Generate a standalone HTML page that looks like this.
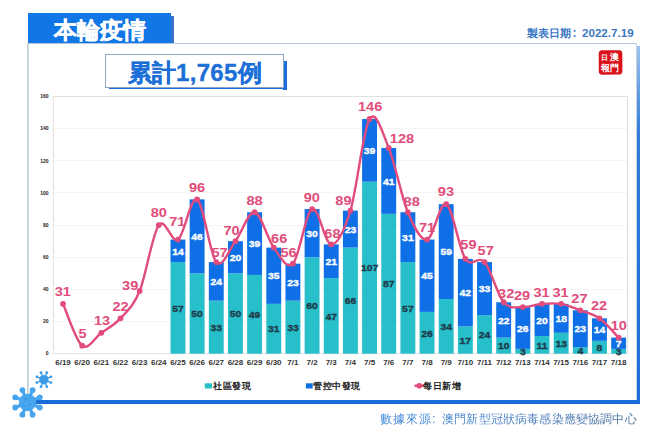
<!DOCTYPE html>
<html><head><meta charset="utf-8">
<style>
html,body{margin:0;padding:0;background:#fff;}
body{width:660px;height:439px;overflow:hidden;position:relative;font-family:"Liberation Sans",sans-serif;}
.abs{position:absolute;}
#title{left:28px;top:13px;width:143px;height:30px;background:#1176e6;}
#title span{position:absolute;left:26px;top:2.5px;font-size:23px;font-weight:900;-webkit-text-stroke:0.45px #fff;color:#fff;line-height:28px;letter-spacing:0px;white-space:nowrap;}
#date{left:526.5px;top:26px;font-size:11px;font-weight:bold;color:#3b78c4;white-space:nowrap;line-height:14px;}
#total{left:105px;top:54px;width:177px;height:31.5px;border:1px solid #8ea6c4;background:#fff;}
#total span{position:absolute;left:21.5px;top:4.5px;font-size:24px;letter-spacing:0.3px;-webkit-text-stroke:0.35px #1b6fd6;font-weight:bold;color:#1b6fd6;line-height:26px;white-space:nowrap;}
#src,#src2{position:absolute;top:411px;font-size:12.2px;-webkit-background-clip:text;background-clip:text;-webkit-text-fill-color:transparent;white-space:nowrap;line-height:16px;}
#src{left:380px;letter-spacing:0.9px;background:linear-gradient(90deg,#3a86dc,#3e84d4);-webkit-background-clip:text;background-clip:text;}
#src2{left:442px;letter-spacing:0.17px;background:linear-gradient(90deg,#3f84d2,#4a80c4 40%,#4c7098);-webkit-background-clip:text;background-clip:text;}
.leg{top:381px;font-size:9.3px;letter-spacing:0.5px;font-weight:bold;color:#222;white-space:nowrap;line-height:11px;}
</style></head><body>
<div class="abs" style="left:27px;top:43px;width:2px;height:358px;background:linear-gradient(90deg,#bccbd0,#d8e4e6);"></div>
<div class="abs" style="left:28px;top:43px;width:609px;height:1px;background:#b7c6d8;"></div>
<div class="abs" style="left:636px;top:43px;width:1px;height:358px;background:#c9d3de;"></div>
<div class="abs" style="left:637px;top:46px;width:3px;height:357px;background:linear-gradient(#9cc2ee,#2f7bd9 25%,#1d6edb);"></div>
<div class="abs" style="left:28px;top:400px;width:612px;height:3.7px;background:#1a6ad8;"></div>
<div class="abs" style="left:171px;top:16px;width:2.6px;height:27px;background:#3b77c6;"></div>
<div id="title" class="abs"><span>本輪疫情</span></div>
<div id="date" class="abs">製表日期<span style="margin-left:2px;margin-right:5.5px;font-size:12px">:</span><span style="font-size:11.6px">2022.7.19</span></div>
<div class="abs" style="left:283px;top:61px;width:3.5px;height:28.5px;background:#1a6ede;"></div>
<div class="abs" style="left:109px;top:86.5px;width:177.5px;height:2.8px;background:#1a6ede;"></div>
<div id="total" class="abs"><span>累計1,765例</span></div>
<svg class="abs" style="left:0;top:0" width="660" height="439" viewBox="0 0 660 439" font-family="Liberation Sans, sans-serif">
<line x1="53.4" x2="627.4" y1="321.50" y2="321.50" stroke="#f4f4f4" stroke-width="1"/>
<line x1="53.4" x2="627.4" y1="289.50" y2="289.50" stroke="#f4f4f4" stroke-width="1"/>
<line x1="53.4" x2="627.4" y1="257.50" y2="257.50" stroke="#f4f4f4" stroke-width="1"/>
<line x1="53.4" x2="627.4" y1="225.50" y2="225.50" stroke="#f4f4f4" stroke-width="1"/>
<line x1="53.4" x2="627.4" y1="192.50" y2="192.50" stroke="#f4f4f4" stroke-width="1"/>
<line x1="53.4" x2="627.4" y1="160.50" y2="160.50" stroke="#f4f4f4" stroke-width="1"/>
<line x1="53.4" x2="627.4" y1="128.50" y2="128.50" stroke="#f4f4f4" stroke-width="1"/>
<rect x="53.4" y="96.50" width="574.00" height="257.20" fill="none" stroke="#e0e0e0" stroke-width="1"/>
<text x="48.6" y="355.40" text-anchor="end" font-size="5" font-weight="bold" fill="#222">0</text>
<text x="48.6" y="323.25" text-anchor="end" font-size="5" font-weight="bold" fill="#222">20</text>
<text x="48.6" y="291.10" text-anchor="end" font-size="5" font-weight="bold" fill="#222">40</text>
<text x="48.6" y="258.95" text-anchor="end" font-size="5" font-weight="bold" fill="#222">60</text>
<text x="48.6" y="226.80" text-anchor="end" font-size="5" font-weight="bold" fill="#222">80</text>
<text x="48.6" y="194.65" text-anchor="end" font-size="5" font-weight="bold" fill="#222">100</text>
<text x="48.6" y="162.50" text-anchor="end" font-size="5" font-weight="bold" fill="#222">120</text>
<text x="48.6" y="130.35" text-anchor="end" font-size="5" font-weight="bold" fill="#222">140</text>
<text x="48.6" y="98.20" text-anchor="end" font-size="5" font-weight="bold" fill="#222">160</text>
<rect x="170.51" y="262.07" width="14.9" height="91.63" fill="#27bfca"/>
<rect x="170.51" y="239.57" width="14.9" height="22.50" fill="#0f6fe6"/>
<rect x="189.67" y="273.32" width="14.9" height="80.38" fill="#27bfca"/>
<rect x="189.67" y="199.38" width="14.9" height="73.94" fill="#0f6fe6"/>
<rect x="208.83" y="300.65" width="14.9" height="53.05" fill="#27bfca"/>
<rect x="208.83" y="262.07" width="14.9" height="38.58" fill="#0f6fe6"/>
<rect x="227.99" y="273.32" width="14.9" height="80.38" fill="#27bfca"/>
<rect x="227.99" y="241.18" width="14.9" height="32.15" fill="#0f6fe6"/>
<rect x="247.15" y="274.93" width="14.9" height="78.77" fill="#27bfca"/>
<rect x="247.15" y="212.24" width="14.9" height="62.69" fill="#0f6fe6"/>
<rect x="266.31" y="303.87" width="14.9" height="49.83" fill="#27bfca"/>
<rect x="266.31" y="247.60" width="14.9" height="56.26" fill="#0f6fe6"/>
<rect x="285.47" y="300.65" width="14.9" height="53.05" fill="#27bfca"/>
<rect x="285.47" y="263.68" width="14.9" height="36.97" fill="#0f6fe6"/>
<rect x="304.63" y="257.25" width="14.9" height="96.45" fill="#27bfca"/>
<rect x="304.63" y="209.03" width="14.9" height="48.22" fill="#0f6fe6"/>
<rect x="323.79" y="278.15" width="14.9" height="75.55" fill="#27bfca"/>
<rect x="323.79" y="244.39" width="14.9" height="33.76" fill="#0f6fe6"/>
<rect x="342.95" y="247.60" width="14.9" height="106.09" fill="#27bfca"/>
<rect x="342.95" y="210.63" width="14.9" height="36.97" fill="#0f6fe6"/>
<rect x="362.11" y="181.70" width="14.9" height="172.00" fill="#27bfca"/>
<rect x="362.11" y="119.00" width="14.9" height="62.69" fill="#0f6fe6"/>
<rect x="381.27" y="213.85" width="14.9" height="139.85" fill="#27bfca"/>
<rect x="381.27" y="147.94" width="14.9" height="65.91" fill="#0f6fe6"/>
<rect x="400.43" y="262.07" width="14.9" height="91.63" fill="#27bfca"/>
<rect x="400.43" y="212.24" width="14.9" height="49.83" fill="#0f6fe6"/>
<rect x="419.59" y="311.90" width="14.9" height="41.80" fill="#27bfca"/>
<rect x="419.59" y="239.57" width="14.9" height="72.34" fill="#0f6fe6"/>
<rect x="438.75" y="299.04" width="14.9" height="54.66" fill="#27bfca"/>
<rect x="438.75" y="204.20" width="14.9" height="94.84" fill="#0f6fe6"/>
<rect x="457.91" y="326.37" width="14.9" height="27.33" fill="#27bfca"/>
<rect x="457.91" y="258.86" width="14.9" height="67.52" fill="#0f6fe6"/>
<rect x="477.07" y="315.12" width="14.9" height="38.58" fill="#27bfca"/>
<rect x="477.07" y="262.07" width="14.9" height="53.05" fill="#0f6fe6"/>
<rect x="496.23" y="337.62" width="14.9" height="16.07" fill="#27bfca"/>
<rect x="496.23" y="302.26" width="14.9" height="35.37" fill="#0f6fe6"/>
<rect x="515.39" y="348.88" width="14.9" height="4.82" fill="#27bfca"/>
<rect x="515.39" y="307.08" width="14.9" height="41.80" fill="#0f6fe6"/>
<rect x="534.55" y="336.02" width="14.9" height="17.68" fill="#27bfca"/>
<rect x="534.55" y="303.87" width="14.9" height="32.15" fill="#0f6fe6"/>
<rect x="553.71" y="332.80" width="14.9" height="20.90" fill="#27bfca"/>
<rect x="553.71" y="303.87" width="14.9" height="28.94" fill="#0f6fe6"/>
<rect x="572.87" y="347.27" width="14.9" height="6.43" fill="#27bfca"/>
<rect x="572.87" y="310.30" width="14.9" height="36.97" fill="#0f6fe6"/>
<rect x="592.03" y="340.84" width="14.9" height="12.86" fill="#27bfca"/>
<rect x="592.03" y="318.33" width="14.9" height="22.50" fill="#0f6fe6"/>
<rect x="611.19" y="348.88" width="14.9" height="4.82" fill="#27bfca"/>
<rect x="611.19" y="337.62" width="14.9" height="11.25" fill="#0f6fe6"/>
<text transform="translate(177.96,311.59) scale(1.14,1)" text-anchor="middle" font-size="9.1" font-weight="bold" fill="#1f3b4a" stroke="#1f3b4a" stroke-width="0.35">57</text>
<text transform="translate(177.96,254.52) scale(1.14,1)" text-anchor="middle" font-size="9.1" font-weight="bold" fill="#fff" stroke="#fff" stroke-width="0.35">14</text>
<text transform="translate(197.12,317.21) scale(1.14,1)" text-anchor="middle" font-size="9.1" font-weight="bold" fill="#1f3b4a" stroke="#1f3b4a" stroke-width="0.35">50</text>
<text transform="translate(197.12,240.05) scale(1.14,1)" text-anchor="middle" font-size="9.1" font-weight="bold" fill="#fff" stroke="#fff" stroke-width="0.35">46</text>
<text transform="translate(216.28,330.88) scale(1.14,1)" text-anchor="middle" font-size="9.1" font-weight="bold" fill="#1f3b4a" stroke="#1f3b4a" stroke-width="0.35">33</text>
<text transform="translate(216.28,285.06) scale(1.14,1)" text-anchor="middle" font-size="9.1" font-weight="bold" fill="#fff" stroke="#fff" stroke-width="0.35">24</text>
<text transform="translate(235.44,317.21) scale(1.14,1)" text-anchor="middle" font-size="9.1" font-weight="bold" fill="#1f3b4a" stroke="#1f3b4a" stroke-width="0.35">50</text>
<text transform="translate(235.44,260.95) scale(1.14,1)" text-anchor="middle" font-size="9.1" font-weight="bold" fill="#fff" stroke="#fff" stroke-width="0.35">20</text>
<text transform="translate(254.60,318.02) scale(1.14,1)" text-anchor="middle" font-size="9.1" font-weight="bold" fill="#1f3b4a" stroke="#1f3b4a" stroke-width="0.35">49</text>
<text transform="translate(254.60,247.29) scale(1.14,1)" text-anchor="middle" font-size="9.1" font-weight="bold" fill="#fff" stroke="#fff" stroke-width="0.35">39</text>
<text transform="translate(273.76,332.48) scale(1.14,1)" text-anchor="middle" font-size="9.1" font-weight="bold" fill="#1f3b4a" stroke="#1f3b4a" stroke-width="0.35">31</text>
<text transform="translate(273.76,279.44) scale(1.14,1)" text-anchor="middle" font-size="9.1" font-weight="bold" fill="#fff" stroke="#fff" stroke-width="0.35">35</text>
<text transform="translate(292.92,330.88) scale(1.14,1)" text-anchor="middle" font-size="9.1" font-weight="bold" fill="#1f3b4a" stroke="#1f3b4a" stroke-width="0.35">33</text>
<text transform="translate(292.92,285.87) scale(1.14,1)" text-anchor="middle" font-size="9.1" font-weight="bold" fill="#fff" stroke="#fff" stroke-width="0.35">23</text>
<text transform="translate(312.08,309.18) scale(1.14,1)" text-anchor="middle" font-size="9.1" font-weight="bold" fill="#1f3b4a" stroke="#1f3b4a" stroke-width="0.35">60</text>
<text transform="translate(312.08,236.84) scale(1.14,1)" text-anchor="middle" font-size="9.1" font-weight="bold" fill="#fff" stroke="#fff" stroke-width="0.35">30</text>
<text transform="translate(331.24,319.62) scale(1.14,1)" text-anchor="middle" font-size="9.1" font-weight="bold" fill="#1f3b4a" stroke="#1f3b4a" stroke-width="0.35">47</text>
<text transform="translate(331.24,264.97) scale(1.14,1)" text-anchor="middle" font-size="9.1" font-weight="bold" fill="#fff" stroke="#fff" stroke-width="0.35">21</text>
<text transform="translate(350.40,304.35) scale(1.14,1)" text-anchor="middle" font-size="9.1" font-weight="bold" fill="#1f3b4a" stroke="#1f3b4a" stroke-width="0.35">66</text>
<text transform="translate(350.40,232.82) scale(1.14,1)" text-anchor="middle" font-size="9.1" font-weight="bold" fill="#fff" stroke="#fff" stroke-width="0.35">23</text>
<text transform="translate(369.56,271.40) scale(1.14,1)" text-anchor="middle" font-size="9.1" font-weight="bold" fill="#1f3b4a" stroke="#1f3b4a" stroke-width="0.35">107</text>
<text transform="translate(369.56,154.05) scale(1.14,1)" text-anchor="middle" font-size="9.1" font-weight="bold" fill="#fff" stroke="#fff" stroke-width="0.35">39</text>
<text transform="translate(388.72,287.47) scale(1.14,1)" text-anchor="middle" font-size="9.1" font-weight="bold" fill="#1f3b4a" stroke="#1f3b4a" stroke-width="0.35">87</text>
<text transform="translate(388.72,184.59) scale(1.14,1)" text-anchor="middle" font-size="9.1" font-weight="bold" fill="#fff" stroke="#fff" stroke-width="0.35">41</text>
<text transform="translate(407.88,311.59) scale(1.14,1)" text-anchor="middle" font-size="9.1" font-weight="bold" fill="#1f3b4a" stroke="#1f3b4a" stroke-width="0.35">57</text>
<text transform="translate(407.88,240.86) scale(1.14,1)" text-anchor="middle" font-size="9.1" font-weight="bold" fill="#fff" stroke="#fff" stroke-width="0.35">31</text>
<text transform="translate(427.04,336.50) scale(1.14,1)" text-anchor="middle" font-size="9.1" font-weight="bold" fill="#1f3b4a" stroke="#1f3b4a" stroke-width="0.35">26</text>
<text transform="translate(427.04,279.44) scale(1.14,1)" text-anchor="middle" font-size="9.1" font-weight="bold" fill="#fff" stroke="#fff" stroke-width="0.35">45</text>
<text transform="translate(446.20,330.07) scale(1.14,1)" text-anchor="middle" font-size="9.1" font-weight="bold" fill="#1f3b4a" stroke="#1f3b4a" stroke-width="0.35">34</text>
<text transform="translate(446.20,255.32) scale(1.14,1)" text-anchor="middle" font-size="9.1" font-weight="bold" fill="#fff" stroke="#fff" stroke-width="0.35">59</text>
<text transform="translate(465.36,343.74) scale(1.14,1)" text-anchor="middle" font-size="9.1" font-weight="bold" fill="#1f3b4a" stroke="#1f3b4a" stroke-width="0.35">17</text>
<text transform="translate(465.36,296.31) scale(1.14,1)" text-anchor="middle" font-size="9.1" font-weight="bold" fill="#fff" stroke="#fff" stroke-width="0.35">42</text>
<text transform="translate(484.52,338.11) scale(1.14,1)" text-anchor="middle" font-size="9.1" font-weight="bold" fill="#1f3b4a" stroke="#1f3b4a" stroke-width="0.35">24</text>
<text transform="translate(484.52,292.30) scale(1.14,1)" text-anchor="middle" font-size="9.1" font-weight="bold" fill="#fff" stroke="#fff" stroke-width="0.35">33</text>
<text transform="translate(503.68,349.36) scale(1.14,1)" text-anchor="middle" font-size="9.1" font-weight="bold" fill="#1f3b4a" stroke="#1f3b4a" stroke-width="0.35">10</text>
<text transform="translate(503.68,323.64) scale(1.14,1)" text-anchor="middle" font-size="9.1" font-weight="bold" fill="#fff" stroke="#fff" stroke-width="0.35">22</text>
<text transform="translate(522.84,354.99) scale(1.14,1)" text-anchor="middle" font-size="9.1" font-weight="bold" fill="#1f3b4a" stroke="#1f3b4a" stroke-width="0.35">3</text>
<text transform="translate(522.84,331.68) scale(1.14,1)" text-anchor="middle" font-size="9.1" font-weight="bold" fill="#fff" stroke="#fff" stroke-width="0.35">26</text>
<text transform="translate(542.00,348.56) scale(1.14,1)" text-anchor="middle" font-size="9.1" font-weight="bold" fill="#1f3b4a" stroke="#1f3b4a" stroke-width="0.35">11</text>
<text transform="translate(542.00,323.64) scale(1.14,1)" text-anchor="middle" font-size="9.1" font-weight="bold" fill="#fff" stroke="#fff" stroke-width="0.35">20</text>
<text transform="translate(561.16,346.95) scale(1.14,1)" text-anchor="middle" font-size="9.1" font-weight="bold" fill="#1f3b4a" stroke="#1f3b4a" stroke-width="0.35">13</text>
<text transform="translate(561.16,322.04) scale(1.14,1)" text-anchor="middle" font-size="9.1" font-weight="bold" fill="#fff" stroke="#fff" stroke-width="0.35">18</text>
<text transform="translate(580.32,354.19) scale(1.14,1)" text-anchor="middle" font-size="9.1" font-weight="bold" fill="#1f3b4a" stroke="#1f3b4a" stroke-width="0.35">4</text>
<text transform="translate(580.32,332.48) scale(1.14,1)" text-anchor="middle" font-size="9.1" font-weight="bold" fill="#fff" stroke="#fff" stroke-width="0.35">23</text>
<text transform="translate(599.48,350.97) scale(1.14,1)" text-anchor="middle" font-size="9.1" font-weight="bold" fill="#1f3b4a" stroke="#1f3b4a" stroke-width="0.35">8</text>
<text transform="translate(599.48,333.29) scale(1.14,1)" text-anchor="middle" font-size="9.1" font-weight="bold" fill="#fff" stroke="#fff" stroke-width="0.35">14</text>
<text transform="translate(618.64,354.99) scale(1.14,1)" text-anchor="middle" font-size="9.1" font-weight="bold" fill="#1f3b4a" stroke="#1f3b4a" stroke-width="0.35">3</text>
<text transform="translate(618.64,346.95) scale(1.14,1)" text-anchor="middle" font-size="9.1" font-weight="bold" fill="#fff" stroke="#fff" stroke-width="0.35">7</text>
<path d="M63.00,303.87 C66.19,310.83 75.77,340.84 82.16,345.66 C88.55,350.48 94.93,337.36 101.32,332.80 C107.71,328.25 114.09,325.30 120.48,318.33 C126.87,311.37 133.25,306.55 139.64,291.01 C146.03,275.47 152.41,233.67 158.80,225.10 C165.19,216.53 171.57,243.85 177.96,239.57 C184.35,235.28 190.73,195.63 197.12,199.38 C203.51,203.13 209.89,255.11 216.28,262.07 C222.67,269.04 229.05,249.48 235.44,241.18 C241.83,232.87 248.21,211.17 254.60,212.24 C260.99,213.31 267.37,239.03 273.76,247.60 C280.15,256.18 286.53,270.11 292.92,263.68 C299.31,257.25 305.69,212.24 312.08,209.03 C318.47,205.81 324.85,244.12 331.24,244.39 C337.63,244.66 344.01,231.53 350.40,210.63 C356.79,189.73 363.17,129.45 369.56,119.00 C375.95,108.56 382.33,132.40 388.72,147.94 C395.11,163.48 401.49,196.97 407.88,212.24 C414.27,227.51 420.65,240.91 427.04,239.57 C433.43,238.23 439.81,200.99 446.20,204.20 C452.59,207.42 458.97,249.21 465.36,258.86 C471.75,268.50 478.13,254.84 484.52,262.07 C490.91,269.31 497.29,294.76 503.68,302.26 C510.07,309.76 516.45,306.81 522.84,307.08 C529.23,307.35 535.61,304.40 542.00,303.87 C548.39,303.33 554.77,302.80 561.16,303.87 C567.55,304.94 573.93,307.89 580.32,310.30 C586.71,312.71 593.09,313.78 599.48,318.33 C605.87,322.89 615.45,334.41 618.64,337.62" fill="none" stroke="#e24c7c" stroke-width="2.4" stroke-linejoin="round" stroke-linecap="round"/>
<circle cx="63.00" cy="303.87" r="2.9" fill="#e24c7c"/>
<circle cx="82.16" cy="345.66" r="2.9" fill="#e24c7c"/>
<circle cx="101.32" cy="332.80" r="2.9" fill="#e24c7c"/>
<circle cx="120.48" cy="318.33" r="2.9" fill="#e24c7c"/>
<circle cx="139.64" cy="291.01" r="2.9" fill="#e24c7c"/>
<circle cx="158.80" cy="225.10" r="2.9" fill="#e24c7c"/>
<circle cx="177.96" cy="239.57" r="2.9" fill="#e24c7c"/>
<circle cx="197.12" cy="199.38" r="2.9" fill="#e24c7c"/>
<circle cx="216.28" cy="262.07" r="2.9" fill="#e24c7c"/>
<circle cx="235.44" cy="241.18" r="2.9" fill="#e24c7c"/>
<circle cx="254.60" cy="212.24" r="2.9" fill="#e24c7c"/>
<circle cx="273.76" cy="247.60" r="2.9" fill="#e24c7c"/>
<circle cx="292.92" cy="263.68" r="2.9" fill="#e24c7c"/>
<circle cx="312.08" cy="209.03" r="2.9" fill="#e24c7c"/>
<circle cx="331.24" cy="244.39" r="2.9" fill="#e24c7c"/>
<circle cx="350.40" cy="210.63" r="2.9" fill="#e24c7c"/>
<circle cx="369.56" cy="119.00" r="2.9" fill="#e24c7c"/>
<circle cx="388.72" cy="147.94" r="2.9" fill="#e24c7c"/>
<circle cx="407.88" cy="212.24" r="2.9" fill="#e24c7c"/>
<circle cx="427.04" cy="239.57" r="2.9" fill="#e24c7c"/>
<circle cx="446.20" cy="204.20" r="2.9" fill="#e24c7c"/>
<circle cx="465.36" cy="258.86" r="2.9" fill="#e24c7c"/>
<circle cx="484.52" cy="262.07" r="2.9" fill="#e24c7c"/>
<circle cx="503.68" cy="302.26" r="2.9" fill="#e24c7c"/>
<circle cx="522.84" cy="307.08" r="2.9" fill="#e24c7c"/>
<circle cx="542.00" cy="303.87" r="2.9" fill="#e24c7c"/>
<circle cx="561.16" cy="303.87" r="2.9" fill="#e24c7c"/>
<circle cx="580.32" cy="310.30" r="2.9" fill="#e24c7c"/>
<circle cx="599.48" cy="318.33" r="2.9" fill="#e24c7c"/>
<circle cx="618.64" cy="337.62" r="2.9" fill="#e24c7c"/>
<text transform="translate(62.80,296.10) scale(1.12,1)" text-anchor="middle" font-size="13" font-weight="bold" fill="#df4d7a">31</text>
<text transform="translate(82.50,338.30) scale(1.12,1)" text-anchor="middle" font-size="13" font-weight="bold" fill="#df4d7a">5</text>
<text transform="translate(102.00,324.80) scale(1.12,1)" text-anchor="middle" font-size="13" font-weight="bold" fill="#df4d7a">13</text>
<text transform="translate(120.50,310.50) scale(1.12,1)" text-anchor="middle" font-size="13" font-weight="bold" fill="#df4d7a">22</text>
<text transform="translate(130.20,289.70) scale(1.12,1)" text-anchor="middle" font-size="13" font-weight="bold" fill="#df4d7a">39</text>
<text transform="translate(158.80,217.20) scale(1.12,1)" text-anchor="middle" font-size="13" font-weight="bold" fill="#df4d7a">80</text>
<text transform="translate(177.30,226.20) scale(1.12,1)" text-anchor="middle" font-size="13" font-weight="bold" fill="#df4d7a">71</text>
<text transform="translate(197.00,191.50) scale(1.12,1)" text-anchor="middle" font-size="13" font-weight="bold" fill="#df4d7a">96</text>
<text transform="translate(219.60,256.90) scale(1.12,1)" text-anchor="middle" font-size="13" font-weight="bold" fill="#df4d7a">57</text>
<text transform="translate(231.50,234.70) scale(1.12,1)" text-anchor="middle" font-size="13" font-weight="bold" fill="#df4d7a">70</text>
<text transform="translate(254.50,204.50) scale(1.12,1)" text-anchor="middle" font-size="13" font-weight="bold" fill="#df4d7a">88</text>
<text transform="translate(279.20,242.90) scale(1.12,1)" text-anchor="middle" font-size="13" font-weight="bold" fill="#df4d7a">66</text>
<text transform="translate(288.60,257.40) scale(1.12,1)" text-anchor="middle" font-size="13" font-weight="bold" fill="#df4d7a">56</text>
<text transform="translate(311.80,201.50) scale(1.12,1)" text-anchor="middle" font-size="13" font-weight="bold" fill="#df4d7a">90</text>
<text transform="translate(332.40,237.90) scale(1.12,1)" text-anchor="middle" font-size="13" font-weight="bold" fill="#df4d7a">68</text>
<text transform="translate(343.40,205.30) scale(1.12,1)" text-anchor="middle" font-size="13" font-weight="bold" fill="#df4d7a">89</text>
<text transform="translate(370.10,111.00) scale(1.12,1)" text-anchor="middle" font-size="13" font-weight="bold" fill="#df4d7a">146</text>
<text transform="translate(402.00,142.90) scale(1.12,1)" text-anchor="middle" font-size="13" font-weight="bold" fill="#df4d7a">128</text>
<text transform="translate(411.70,206.20) scale(1.12,1)" text-anchor="middle" font-size="13" font-weight="bold" fill="#df4d7a">88</text>
<text transform="translate(427.10,232.00) scale(1.12,1)" text-anchor="middle" font-size="13" font-weight="bold" fill="#df4d7a">71</text>
<text transform="translate(445.90,196.10) scale(1.12,1)" text-anchor="middle" font-size="13" font-weight="bold" fill="#df4d7a">93</text>
<text transform="translate(468.40,249.40) scale(1.12,1)" text-anchor="middle" font-size="13" font-weight="bold" fill="#df4d7a">59</text>
<text transform="translate(485.70,255.20) scale(1.12,1)" text-anchor="middle" font-size="13" font-weight="bold" fill="#df4d7a">57</text>
<text transform="translate(506.20,297.60) scale(1.12,1)" text-anchor="middle" font-size="13" font-weight="bold" fill="#df4d7a">32</text>
<text transform="translate(522.00,299.50) scale(1.12,1)" text-anchor="middle" font-size="13" font-weight="bold" fill="#df4d7a">29</text>
<text transform="translate(541.50,296.80) scale(1.12,1)" text-anchor="middle" font-size="13" font-weight="bold" fill="#df4d7a">31</text>
<text transform="translate(560.50,296.80) scale(1.12,1)" text-anchor="middle" font-size="13" font-weight="bold" fill="#df4d7a">31</text>
<text transform="translate(579.40,303.10) scale(1.12,1)" text-anchor="middle" font-size="13" font-weight="bold" fill="#df4d7a">27</text>
<text transform="translate(599.00,310.40) scale(1.12,1)" text-anchor="middle" font-size="13" font-weight="bold" fill="#df4d7a">22</text>
<text transform="translate(618.80,330.30) scale(1.12,1)" text-anchor="middle" font-size="13" font-weight="bold" fill="#df4d7a">10</text>
<text x="63.00" y="365.2" text-anchor="middle" font-size="8" font-weight="bold" fill="#333">6/19</text>
<text x="82.16" y="365.2" text-anchor="middle" font-size="8" font-weight="bold" fill="#333">6/20</text>
<text x="101.32" y="365.2" text-anchor="middle" font-size="8" font-weight="bold" fill="#333">6/21</text>
<text x="120.48" y="365.2" text-anchor="middle" font-size="8" font-weight="bold" fill="#333">6/22</text>
<text x="139.64" y="365.2" text-anchor="middle" font-size="8" font-weight="bold" fill="#333">6/23</text>
<text x="158.80" y="365.2" text-anchor="middle" font-size="8" font-weight="bold" fill="#333">6/24</text>
<text x="177.96" y="365.2" text-anchor="middle" font-size="8" font-weight="bold" fill="#333">6/25</text>
<text x="197.12" y="365.2" text-anchor="middle" font-size="8" font-weight="bold" fill="#333">6/26</text>
<text x="216.28" y="365.2" text-anchor="middle" font-size="8" font-weight="bold" fill="#333">6/27</text>
<text x="235.44" y="365.2" text-anchor="middle" font-size="8" font-weight="bold" fill="#333">6/28</text>
<text x="254.60" y="365.2" text-anchor="middle" font-size="8" font-weight="bold" fill="#333">6/29</text>
<text x="273.76" y="365.2" text-anchor="middle" font-size="8" font-weight="bold" fill="#333">6/30</text>
<text x="292.92" y="365.2" text-anchor="middle" font-size="8" font-weight="bold" fill="#333">7/1</text>
<text x="312.08" y="365.2" text-anchor="middle" font-size="8" font-weight="bold" fill="#333">7/2</text>
<text x="331.24" y="365.2" text-anchor="middle" font-size="8" font-weight="bold" fill="#333">7/3</text>
<text x="350.40" y="365.2" text-anchor="middle" font-size="8" font-weight="bold" fill="#333">7/4</text>
<text x="369.56" y="365.2" text-anchor="middle" font-size="8" font-weight="bold" fill="#333">7/5</text>
<text x="388.72" y="365.2" text-anchor="middle" font-size="8" font-weight="bold" fill="#333">7/6</text>
<text x="407.88" y="365.2" text-anchor="middle" font-size="8" font-weight="bold" fill="#333">7/7</text>
<text x="427.04" y="365.2" text-anchor="middle" font-size="8" font-weight="bold" fill="#333">7/8</text>
<text x="446.20" y="365.2" text-anchor="middle" font-size="8" font-weight="bold" fill="#333">7/9</text>
<text x="465.36" y="365.2" text-anchor="middle" font-size="8" font-weight="bold" fill="#333">7/10</text>
<text x="484.52" y="365.2" text-anchor="middle" font-size="8" font-weight="bold" fill="#333">7/11</text>
<text x="503.68" y="365.2" text-anchor="middle" font-size="8" font-weight="bold" fill="#333">7/12</text>
<text x="522.84" y="365.2" text-anchor="middle" font-size="8" font-weight="bold" fill="#333">7/13</text>
<text x="542.00" y="365.2" text-anchor="middle" font-size="8" font-weight="bold" fill="#333">7/14</text>
<text x="561.16" y="365.2" text-anchor="middle" font-size="8" font-weight="bold" fill="#333">7/15</text>
<text x="580.32" y="365.2" text-anchor="middle" font-size="8" font-weight="bold" fill="#333">7/16</text>
<text x="599.48" y="365.2" text-anchor="middle" font-size="8" font-weight="bold" fill="#333">7/17</text>
<text x="618.64" y="365.2" text-anchor="middle" font-size="8" font-weight="bold" fill="#333">7/18</text>
<!-- seal -->
<path d="M601.5,50.3 L619.5,50.2 Q622.4,50.4 622.3,53.5 L622.4,71.2 Q622.2,74.5 619,74.6 L602,74.7 Q598.8,74.4 598.8,71.4 L598.7,53.6 Q598.9,50.5 601.5,50.3 Z" fill="#d9121c"/>
<g font-family="Liberation Serif, serif" fill="#fff" font-weight="bold" text-anchor="middle">
<text x="604.8" y="59.6" font-size="6.5">日</text>
<text x="614.8" y="60.2" font-size="9">澳</text>
<text x="605.6" y="70.6" font-size="8.5">報</text>
<text x="614.8" y="70.9" font-size="8.5">門</text>
</g>
<!-- legend markers -->
<rect x="204.8" y="383.3" width="7.2" height="5.2" fill="#27bfca"/>
<rect x="305.9" y="383.3" width="6.8" height="5.2" fill="#0f6fe6"/>
<line x1="414.5" y1="385.8" x2="424" y2="385.8" stroke="#e24c7c" stroke-width="2.5"/>
<circle cx="419.3" cy="385.8" r="2.8" fill="#e24c7c"/>
<line x1="42.58" y1="376.52" x2="41.00" y2="372.71" stroke="#3c9ce8" stroke-width="1.29"/>
<circle cx="41.00" cy="372.71" r="1.42" fill="#3c9ce8"/>
<line x1="45.22" y1="376.52" x2="46.80" y2="372.71" stroke="#3c9ce8" stroke-width="1.29"/>
<circle cx="46.80" cy="372.71" r="1.42" fill="#3c9ce8"/>
<line x1="47.08" y1="378.38" x2="50.89" y2="376.80" stroke="#3c9ce8" stroke-width="1.29"/>
<circle cx="50.89" cy="376.80" r="1.42" fill="#3c9ce8"/>
<line x1="47.08" y1="381.02" x2="50.89" y2="382.60" stroke="#3c9ce8" stroke-width="1.29"/>
<circle cx="50.89" cy="382.60" r="1.42" fill="#3c9ce8"/>
<line x1="45.22" y1="382.88" x2="46.80" y2="386.69" stroke="#3c9ce8" stroke-width="1.29"/>
<circle cx="46.80" cy="386.69" r="1.42" fill="#3c9ce8"/>
<line x1="42.58" y1="382.88" x2="41.00" y2="386.69" stroke="#3c9ce8" stroke-width="1.29"/>
<circle cx="41.00" cy="386.69" r="1.42" fill="#3c9ce8"/>
<line x1="40.72" y1="381.02" x2="36.91" y2="382.60" stroke="#3c9ce8" stroke-width="1.29"/>
<circle cx="36.91" cy="382.60" r="1.42" fill="#3c9ce8"/>
<line x1="40.72" y1="378.38" x2="36.91" y2="376.80" stroke="#3c9ce8" stroke-width="1.29"/>
<circle cx="36.91" cy="376.80" r="1.42" fill="#3c9ce8"/>
<circle cx="43.9" cy="379.7" r="4.73" fill="#3c9ce8"/>
<circle cx="42.87" cy="377.98" r="0.69" fill="#3590dc"/>
<circle cx="45.19" cy="380.73" r="0.60" fill="#3590dc"/>
<circle cx="42.18" cy="381.85" r="0.52" fill="#3590dc"/>
<line x1="25.17" y1="396.78" x2="22.41" y2="390.11" stroke="#47a5ee" stroke-width="3.19"/>
<circle cx="22.41" cy="390.11" r="2.89" fill="#47a5ee"/>
<line x1="29.83" y1="396.78" x2="32.59" y2="390.11" stroke="#47a5ee" stroke-width="3.19"/>
<circle cx="32.59" cy="390.11" r="2.89" fill="#47a5ee"/>
<line x1="33.12" y1="400.07" x2="39.79" y2="397.31" stroke="#47a5ee" stroke-width="3.19"/>
<circle cx="39.79" cy="397.31" r="2.89" fill="#47a5ee"/>
<line x1="33.12" y1="404.73" x2="39.79" y2="407.49" stroke="#47a5ee" stroke-width="3.19"/>
<circle cx="39.79" cy="407.49" r="2.89" fill="#47a5ee"/>
<line x1="29.83" y1="408.02" x2="32.59" y2="414.69" stroke="#47a5ee" stroke-width="3.19"/>
<circle cx="32.59" cy="414.69" r="2.89" fill="#47a5ee"/>
<line x1="25.17" y1="408.02" x2="22.41" y2="414.69" stroke="#47a5ee" stroke-width="3.19"/>
<circle cx="22.41" cy="414.69" r="2.89" fill="#47a5ee"/>
<line x1="21.88" y1="404.73" x2="15.21" y2="407.49" stroke="#47a5ee" stroke-width="3.19"/>
<circle cx="15.21" cy="407.49" r="2.89" fill="#47a5ee"/>
<line x1="21.88" y1="400.07" x2="15.21" y2="397.31" stroke="#47a5ee" stroke-width="3.19"/>
<circle cx="15.21" cy="397.31" r="2.89" fill="#47a5ee"/>
<circle cx="27.5" cy="402.4" r="8.60" fill="#47a5ee"/>
<circle cx="25.68" cy="399.36" r="1.22" fill="#3590dc"/>
<circle cx="29.78" cy="404.22" r="1.06" fill="#3590dc"/>
<circle cx="24.46" cy="406.20" r="0.91" fill="#3590dc"/>
</svg>
<div class="abs leg" style="left:213px;">社區發現</div>
<div class="abs leg" style="left:313px;">管控中發現</div>
<div class="abs leg" style="left:423px;">每日新增</div>
<div id="src">數據來源<span style="font-size:13px;letter-spacing:0;margin-left:0.5px">:</span></div>
<div id="src2">澳門新型冠狀病毒感染應變協調中心</div>
</body></html>
